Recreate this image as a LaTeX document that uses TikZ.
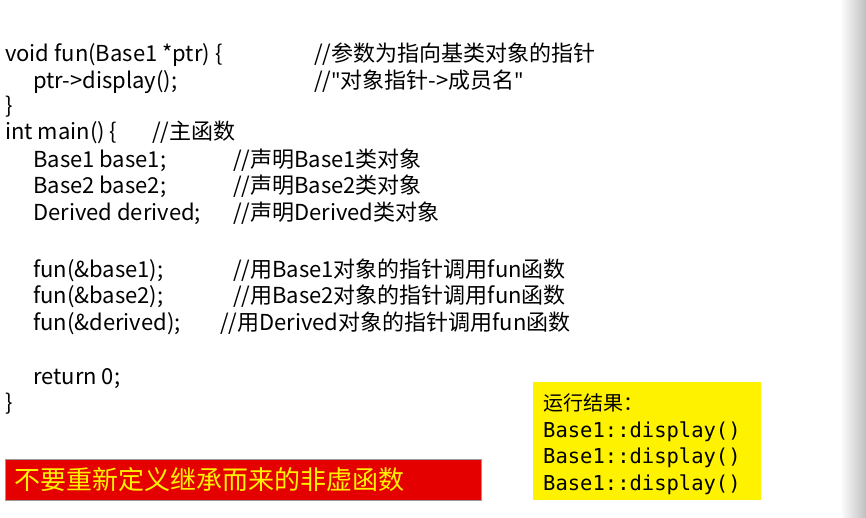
\documentclass[tikz,border=0pt]{standalone}
\usepackage{fontspec}
\setmainfont{Noto Sans CJK SC}
\newfontfamily\cmono{DejaVu Sans Mono}
\newfontfamily\qfont{Noto Sans}
\begin{document}
\begin{tikzpicture}[x=1pt,y=-1pt,
  code/.style={anchor=base west,inner sep=0pt,font=\fontsize{22}{24}\selectfont},
  res/.style={anchor=base west,inner sep=0pt,font=\cmono\fontsize{20.5}{22}\selectfont}]
\useasboundingbox (0,0) rectangle (866,518);
\fill[white] (0,0) rectangle (866,518);
\shade[left color=white,right color=black!25] (840,0) rectangle (866,518);
\node[code] (l1) at (5,62) {void fun(Base1 *ptr) \{};
\node[code] (c1) at (314,62) {//参数为指向基类对象的指针};
\node[code] (l2) at (33,89) {ptr->display();};
\node[code] (c2) at (314,89) {//{\qfont"}对象指针->成员名{\qfont"}};
\node[code] (l3) at (5,114) {\}};
\node[code] (l4) at (5,140) {int main() \{};
\node[code] (c4) at (152,140) {//主函数};
\node[code] (l5) at (33,168) {Base1 base1;};
\node[code] (c5) at (233,168) {//声明Base1类对象};
\node[code] (l6) at (33,194) {Base2 base2;};
\node[code] (c6) at (233,194) {//声明Base2类对象};
\node[code] (l7) at (33,221) {Derived derived;};
\node[code] (c7) at (233,221) {//声明Derived类对象};
\node[code] (l8) at (33,277) {fun(\&base1);};
\node[code] (c8) at (233,277) {//用Base1对象的指针调用fun函数};
\node[code] (l9) at (33,303) {fun(\&base2);};
\node[code] (c9) at (233,303) {//用Base2对象的指针调用fun函数};
\node[code] (l10) at (33,330) {fun(\&derived);};
\node[code] (c10) at (220,330) {//用Derived对象的指针调用fun函数};
\node[code] (l11) at (33,384) {return 0;};
\node[code] (l12) at (5,410) {\}};
\fill[yellow] (533,382) rectangle (761,500);
\node[anchor=base west,inner sep=0pt,font=\fontsize{20}{22}\selectfont] (r0) at (543,410) {运行结果：};
\node[res] (r1) at (543,437) {Base1::display()};
\node[res] (r2) at (543,463) {Base1::display()};
\node[res] (r3) at (543,490) {Base1::display()};
\fill[red!90!black] (5,459) rectangle (481,500);
\draw[black!40] (5,459) rectangle (481,500);
\node[anchor=west,inner sep=0pt,text=yellow,font=\fontsize{26}{28}\selectfont] (warn) at (14,480) {不要重新定义继承而来的非虚函数};
\end{tikzpicture}
\end{document}
